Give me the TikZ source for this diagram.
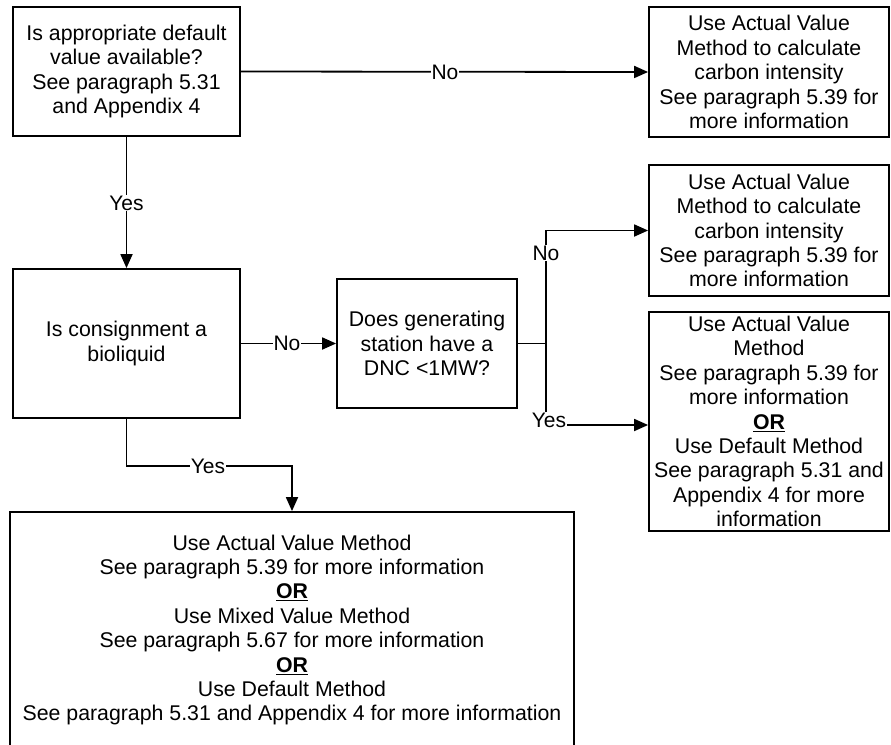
\documentclass[tikz,border=0pt]{standalone}
\usepackage{fontspec}
\setmainfont{Liberation Sans}
\usetikzlibrary{arrows.meta}
\begin{document}
\begin{tikzpicture}[x=1pt,y=-1pt,
  box/.style={draw,line width=1.8pt,align=center,inner sep=0pt,font=\fontsize{21.3}{24.4}\selectfont},
  lbl/.style={fill=white,inner sep=1pt,font=\fontsize{21}{24}\selectfont},
  conn/.style={line width=1.8pt},
  arr/.style={line width=1.8pt,-{Triangle[length=14pt,width=12pt]}}]
\clip (0,0) rectangle (891,744);
\fill[white] (0,0) rectangle (891,744);
% boxes
\node[box,minimum width=227pt,minimum height=129pt] (A) at (126.5,71.5)
  {Is appropriate default\\value available?\\See paragraph 5.31\\and Appendix 4};
\node[box,minimum width=240pt,minimum height=130pt] (B) at (769,72)
  {Use Actual Value\\Method to calculate\\carbon intensity\\See paragraph 5.39 for\\more information};
\node[box,minimum width=227pt,minimum height=149pt] (C) at (126.5,343.5)
  {Is consignment a\\bioliquid};
\node[box,minimum width=180pt,minimum height=129pt] (D) at (427,343.5)
  {Does generating\\station have a\\DNC <1MW?};
\node[box,minimum width=240pt,minimum height=131pt] (E) at (769,230.5)
  {Use Actual Value\\Method to calculate\\carbon intensity\\See paragraph 5.39 for\\more information};
\node[box,minimum width=240pt,minimum height=219pt] (F) at (769,421.5)
  {Use Actual Value\\Method\\See paragraph 5.39 for\\more information\\\underline{\textbf{OR}}\\Use Default Method\\See paragraph 5.31 and\\Appendix 4 for more\\information};
\node[box,minimum width=564pt,minimum height=236pt] (G) at (292,630)
  {Use Actual Value Method\\See paragraph 5.39 for more information\\\underline{\textbf{OR}}\\Use Mixed Value Method\\See paragraph 5.67 for more information\\\underline{\textbf{OR}}\\Use Default Method\\See paragraph 5.31 and Appendix 4 for more information};
% junction coordinates
\coordinate (j) at (546,343.5);
\coordinate (jn) at (546,230.5);
\coordinate (jy) at (546,425);
\coordinate (cy) at (126.5,466);
\coordinate (gy) at (292,466);
% connectors
\draw[arr] (A.east) -- (B.west);
\draw[arr] (A.south) -- (C.north);
\draw[arr] (C.east) -- (D.west);
\draw[conn] (D.east) -- (j);
\draw[arr] (j) -- (jn) -- (E.west);
\draw[arr] (j) -- (jy) -- (jy -| F.west);
\draw[arr] (C.south) -- (cy) -- (gy) -- (G.north);
% labels
\node[lbl] (l1) at (445,72) {No};
\node[lbl] (l2) at (126.5,203) {Yes};
\node[lbl] (l3) at (287,343.5) {No};
\node[lbl] (l4) at (208,466) {Yes};
\node[lbl] (l5) at (546,253) {No};
\node[lbl] (l6) at (549,420) {Yes};
\end{tikzpicture}
\end{document}
